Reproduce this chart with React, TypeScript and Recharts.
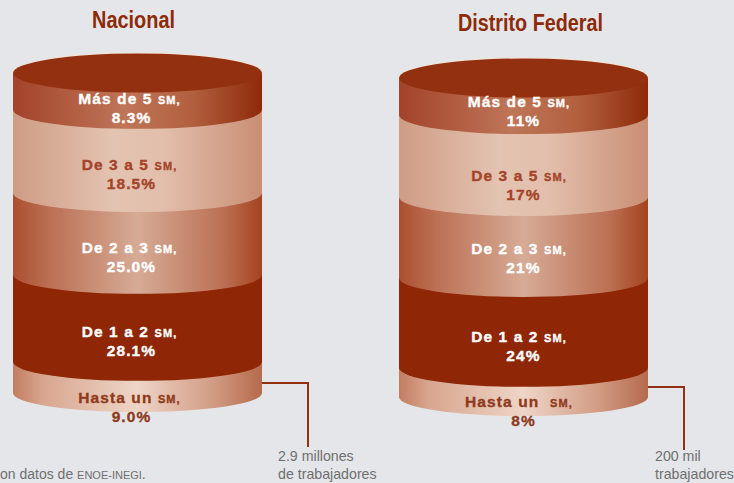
import React from "react";
import { Bar, BarChart, LabelList, XAxis, YAxis } from "recharts";

// Bands run from the base of the cylinder to the lid
const bandKeys = ["hasta1", "de1a2", "de2a3", "de3a5", "mas5"];
const bandNames = ["Hasta un", "De 1 a 2", "De 2 a 3", "De 3 a 5", "Más de 5"];

// Percentages printed on the original
const nacionalLabels = ["9.0%", "28.1%", "25.0%", "18.5%", "8.3%"];
const distritoLabels = ["8%", "24%", "21%", "17%", "11%"];

// The original cylinders are not drawn to scale, so the band heights are read
// off the picture, as a share of each cylinder's height, and not from the labels
const nacionalShares = [9.7, 27.1, 25.5, 25.9, 11.8];
const distritoShares = [9.1, 28.1, 25.3, 25.6, 11.9];

const BG = "#e4e6e9";
const RUST = "#8e2a08";
const RY = 19;

const gradients = [
  { id: "hasta", stops: [["0%", "#c27d60"], ["12%", "#d8a68f"], ["50%", "#eed5c7"], ["80%", "#d29c84"], ["100%", "#b56a4d"]] },
  { id: "dark", stops: [["0%", "#8f2605"], ["100%", "#8f2605"]] },
  { id: "mid", stops: [["0%", "#ab5030"], ["15%", "#bc7054"], ["50%", "#d6ab96"], ["85%", "#bb6f52"], ["100%", "#a4431f"]] },
  { id: "light", stops: [["0%", "#cf9c84"], ["40%", "#e3c3b1"], ["60%", "#e2bfac"], ["100%", "#c98e74"]] },
  { id: "top", stops: [["0%", "#a2432a"], ["45%", "#bf7558"], ["72%", "#b2603f"], ["100%", "#8e2a08"]] },
];

const textColors = ["#8f3a1c", "#ffffff", "#ffffff", "#a5442a", "#ffffff"];

const CylinderBand = (props: any) => {
  const { x, y, width, height, band } = props;
  const rx = width / 2;
  const d = `M${x},${y} L${x},${y + height} A${rx},${RY} 0 0 0 ${x + width},${y + height} L${x + width},${y} Z`;
  return (
    <g>
      <path d={d} fill={`url(#${gradients[band].id})`} />
      {band === 4 && (
        <>
          <ellipse cx={x + rx} cy={y} rx={rx} ry={RY + 0.5} fill="#f3e3d8" />
          <ellipse cx={x + rx} cy={y + 1} rx={rx} ry={RY + 0.5} fill="#93300f" />
        </>
      )}
    </g>
  );
};

const BandLabel = (props: any) => {
  const { x, y, width, height, name, pct, color, shift, extraGap, dxName, dxPct } = props;
  const cx = x + width / 2;
  const cy = y + height / 2 + shift;
  return (
    <text
      textAnchor="middle"
      fontFamily="'Liberation Sans', Arial, sans-serif"
      fontWeight="bold"
      fontSize={15.5}
      letterSpacing={1.1}
      fill={color}
      stroke={color}
      strokeWidth={0.35}
    >
      <tspan x={cx + dxName} y={cy - 4}>
        {name}
        {extraGap ? "\u00a0\u00a0" : " "}
        <tspan fontSize={11}>SM,</tspan>
      </tspan>
      <tspan x={cx + dxPct} y={cy + 15}>{pct}</tspan>
    </text>
  );
};

type CylinderProps = {
  title: string;
  titleX: number;
  titleY: number;
  titleWidth: number;
  shares: number[];
  labels: string[];
  top: number;
  bottom: number;
  left: number;
  leader: string;
  note: string[];
  noteX: number;
  shifts: number[];
  dxName: number;
  dxPct: number;
  extraGap?: boolean;
};

const Cylinder = ({ title, titleX, titleY, titleWidth, shares, labels, top, bottom, left, leader, note, noteX, shifts, dxName, dxPct, extraGap }: CylinderProps) => {
  const row: Record<string, number | string> = { name: title };
  bandKeys.forEach((k, i) => (row[k] = shares[i]));
  return (
    <BarChart
      width={367}
      height={483}
      data={[row]}
      margin={{ top, bottom: 483 - bottom, left, right: 367 - left - 249 }}
      barCategoryGap={0}
      style={{ position: "absolute", left: 0, top: 0 }}
    >
      <defs>
        {gradients.map((g) => (
          <linearGradient key={g.id} id={g.id} x1="0" y1="0" x2="1" y2="0">
            {g.stops.map(([offset, color]) => (
              <stop key={offset} offset={offset} stopColor={color} />
            ))}
          </linearGradient>
        ))}
      </defs>
      <XAxis dataKey="name" hide />
      <YAxis hide domain={[0, 100]} />
      {bandKeys.map((k, i) => (
        <Bar
          key={k}
          dataKey={k}
          stackId="a"
          isAnimationActive={false}
          shape={(p: any) => <CylinderBand {...p} band={i} />}
        >
          <LabelList
            dataKey={k}
            content={(p: any) => (
              <BandLabel
                {...p}
                name={bandNames[i]}
                pct={labels[i]}
                color={textColors[i]}
                shift={shifts[i]}
                dxName={dxName}
                dxPct={dxPct}
                extraGap={extraGap && i === 0}
              />
            )}
          />
        </Bar>
      ))}
      <text
        x={titleX}
        y={titleY}
        textAnchor="middle"
        fontFamily="'Liberation Sans', sans-serif"
        fontWeight="bold"
        fontSize={23}
        textLength={titleWidth}
        lengthAdjust="spacingAndGlyphs"
        fill={RUST}
      >
        {title}
      </text>
      <path d={leader} fill="none" stroke="#93300f" strokeWidth={2} />
      <text fontFamily="'Liberation Sans', Arial, sans-serif" fontSize={14.2} fill="#6f6f70">
        {note.map((line, i) => (
          <tspan key={line} x={noteX} y={461 + i * 18}>{line}</tspan>
        ))}
      </text>
    </BarChart>
  );
};

export default function App() {
  return (
    <div style={{ position: "fixed", left: 0, top: 0, width: 734, height: 483, background: BG, overflow: "hidden" }}>
      <style>{"svg{overflow:visible}"}</style>
      <div style={{ position: "absolute", left: 0, top: 0, width: 367, height: 483 }}>
        <Cylinder
          title="Nacional"
          titleX={133.5}
          titleY={28}
          titleWidth={83}
          shares={nacionalShares}
          labels={nacionalLabels}
          top={72}
          bottom={393}
          left={13}
          leader="M262,383 H308 V447"
          note={["2.9 millones", "de trabajadores"]}
          noteX={278}
          shifts={[30, 23, 23, 23, 17]}
          dxName={-8}
          dxPct={-6}
        />
      </div>
      <div style={{ position: "absolute", left: 386, top: 0, width: 348, height: 483 }}>
        <Cylinder
          title="Distrito Federal"
          titleX={144.5}
          titleY={31}
          titleWidth={145}
          shares={distritoShares}
          labels={distritoLabels}
          top={77}
          bottom={397}
          left={13}
          leader="M262,387 H298 V450"
          note={["200 mil", "trabajadores"]}
          noteX={269}
          shifts={[29, 23, 21, 29, 15]}
          dxName={-4.5}
          dxPct={0}
          extraGap
        />
      </div>
      <div style={{ position: "absolute", left: 0, top: 467, font: "14px 'Liberation Sans', Arial, sans-serif", color: "#6f6f70", lineHeight: "14px", whiteSpace: "nowrap" }}>
        on datos de <span style={{ fontSize: 11 }}>ENOE-INEGI</span>.
      </div>
    </div>
  );
}
